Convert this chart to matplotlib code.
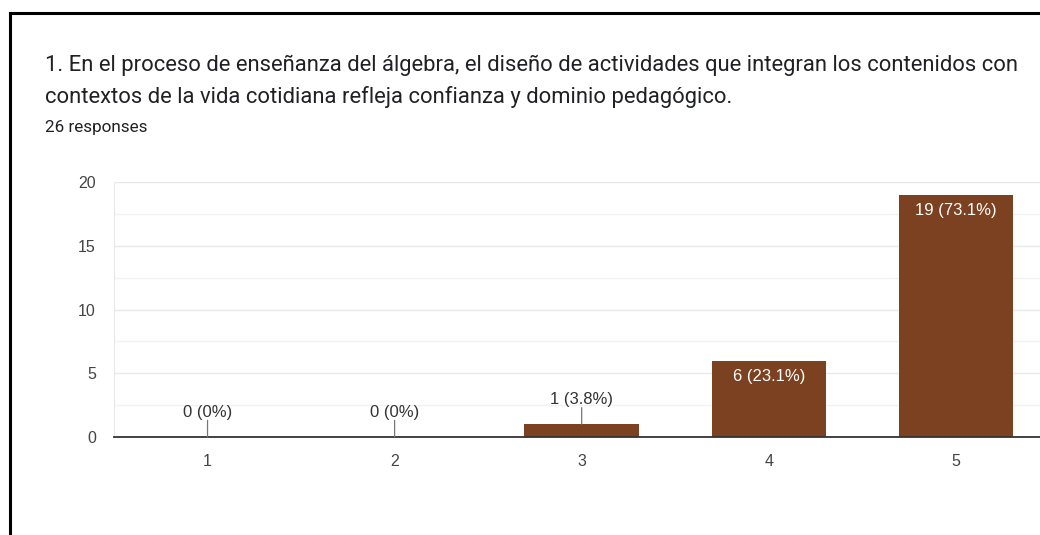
import matplotlib
matplotlib.use('Agg')
import matplotlib.pyplot as plt
from matplotlib.ticker import MultipleLocator

# data
categories = ['1', '2', '3', '4', '5']
counts = [0, 0, 1, 6, 19]
percents = ['0%', '0%', '3.8%', '23.1%', '73.1%']
n_responses = 26

title_1 = "1. En el proceso de enseñanza del álgebra, el diseño de actividades que integran los contenidos con"
title_2 = "contextos de la vida cotidiana refleja confianza y dominio pedagógico."

W, H = 1040, 535
fig = plt.figure(figsize=(W / 100, H / 100), dpi=100)

# screenshot frame (top and left black edges)
fig.add_artist(plt.Line2D([10 / W, 10 / W], [0, 1 - 13 / H], color='black', lw=2.2,
                          transform=fig.transFigure))
fig.add_artist(plt.Line2D([10 / W, 1], [1 - 13 / H, 1 - 13 / H], color='black', lw=2.2,
                          transform=fig.transFigure))

fig.text(45 / W, 1 - 71 / H, title_1, fontsize=15.8, family='Roboto', color='#202124',
         va='baseline', ha='left')
fig.text(45 / W, 1 - 103 / H, title_2, fontsize=15.8, family='Roboto', color='#202124',
         va='baseline', ha='left')
fig.text(45 / W, 1 - 132 / H, f'{n_responses} responses', fontsize=12.3, family='Roboto',
         color='#202124', va='baseline', ha='left')

ax = fig.add_axes([114 / W, 98 / H, (W - 114) / W, (437 - 182) / H])
x = list(range(1, len(categories) + 1))
ax.bar(x, counts, width=0.612, color='#7b4120', zorder=3)

ax.set_xlim(0.5, 5.45)
ax.set_ylim(0, 20)
ax.yaxis.set_major_locator(MultipleLocator(5))
ax.yaxis.set_minor_locator(MultipleLocator(2.5))
ax.grid(True, which='major', axis='y', color='#e8e8e8', lw=1.0, zorder=0)
ax.grid(True, which='minor', axis='y', color='#f2f2f2', lw=1.0, zorder=0)
ax.set_xticks(x)
ax.set_xticklabels(categories)
ax.tick_params(axis='both', which='both', length=0, labelsize=11.5, labelcolor='#444444')
ax.tick_params(axis='x', pad=12)
ax.tick_params(axis='y', pad=13)
for lbl in ax.get_xticklabels() + ax.get_yticklabels():
    lbl.set_family('Liberation Sans')

for s in ['top', 'right']:
    ax.spines[s].set_visible(False)
ax.spines['left'].set_color('#e8e8e8')
ax.spines['bottom'].set_color('#333333')
ax.spines['bottom'].set_linewidth(1.3)
ax.spines['bottom'].set_zorder(4)

for xi, c, p in zip(x, counts, percents):
    label = f'{c} ({p})'
    if c >= 3:
        ax.annotate(label, (xi, c), xytext=(0, -11.5), textcoords='offset points',
                    ha='center', va='center', color='white', fontsize=12,
                    family='Liberation Sans', zorder=5)
    else:
        ax.annotate('', (xi, c), xytext=(0, 12), textcoords='offset points',
                    arrowprops=dict(arrowstyle='-', color='#777777', lw=0.9,
                                    shrinkA=0, shrinkB=0), zorder=5)
        ax.annotate(label, (xi, c), xytext=(0, 17.5), textcoords='offset points',
                    ha='center', va='center', color='#333333', fontsize=12,
                    family='Liberation Sans', zorder=5)

fig.savefig('out.png', dpi=100)
